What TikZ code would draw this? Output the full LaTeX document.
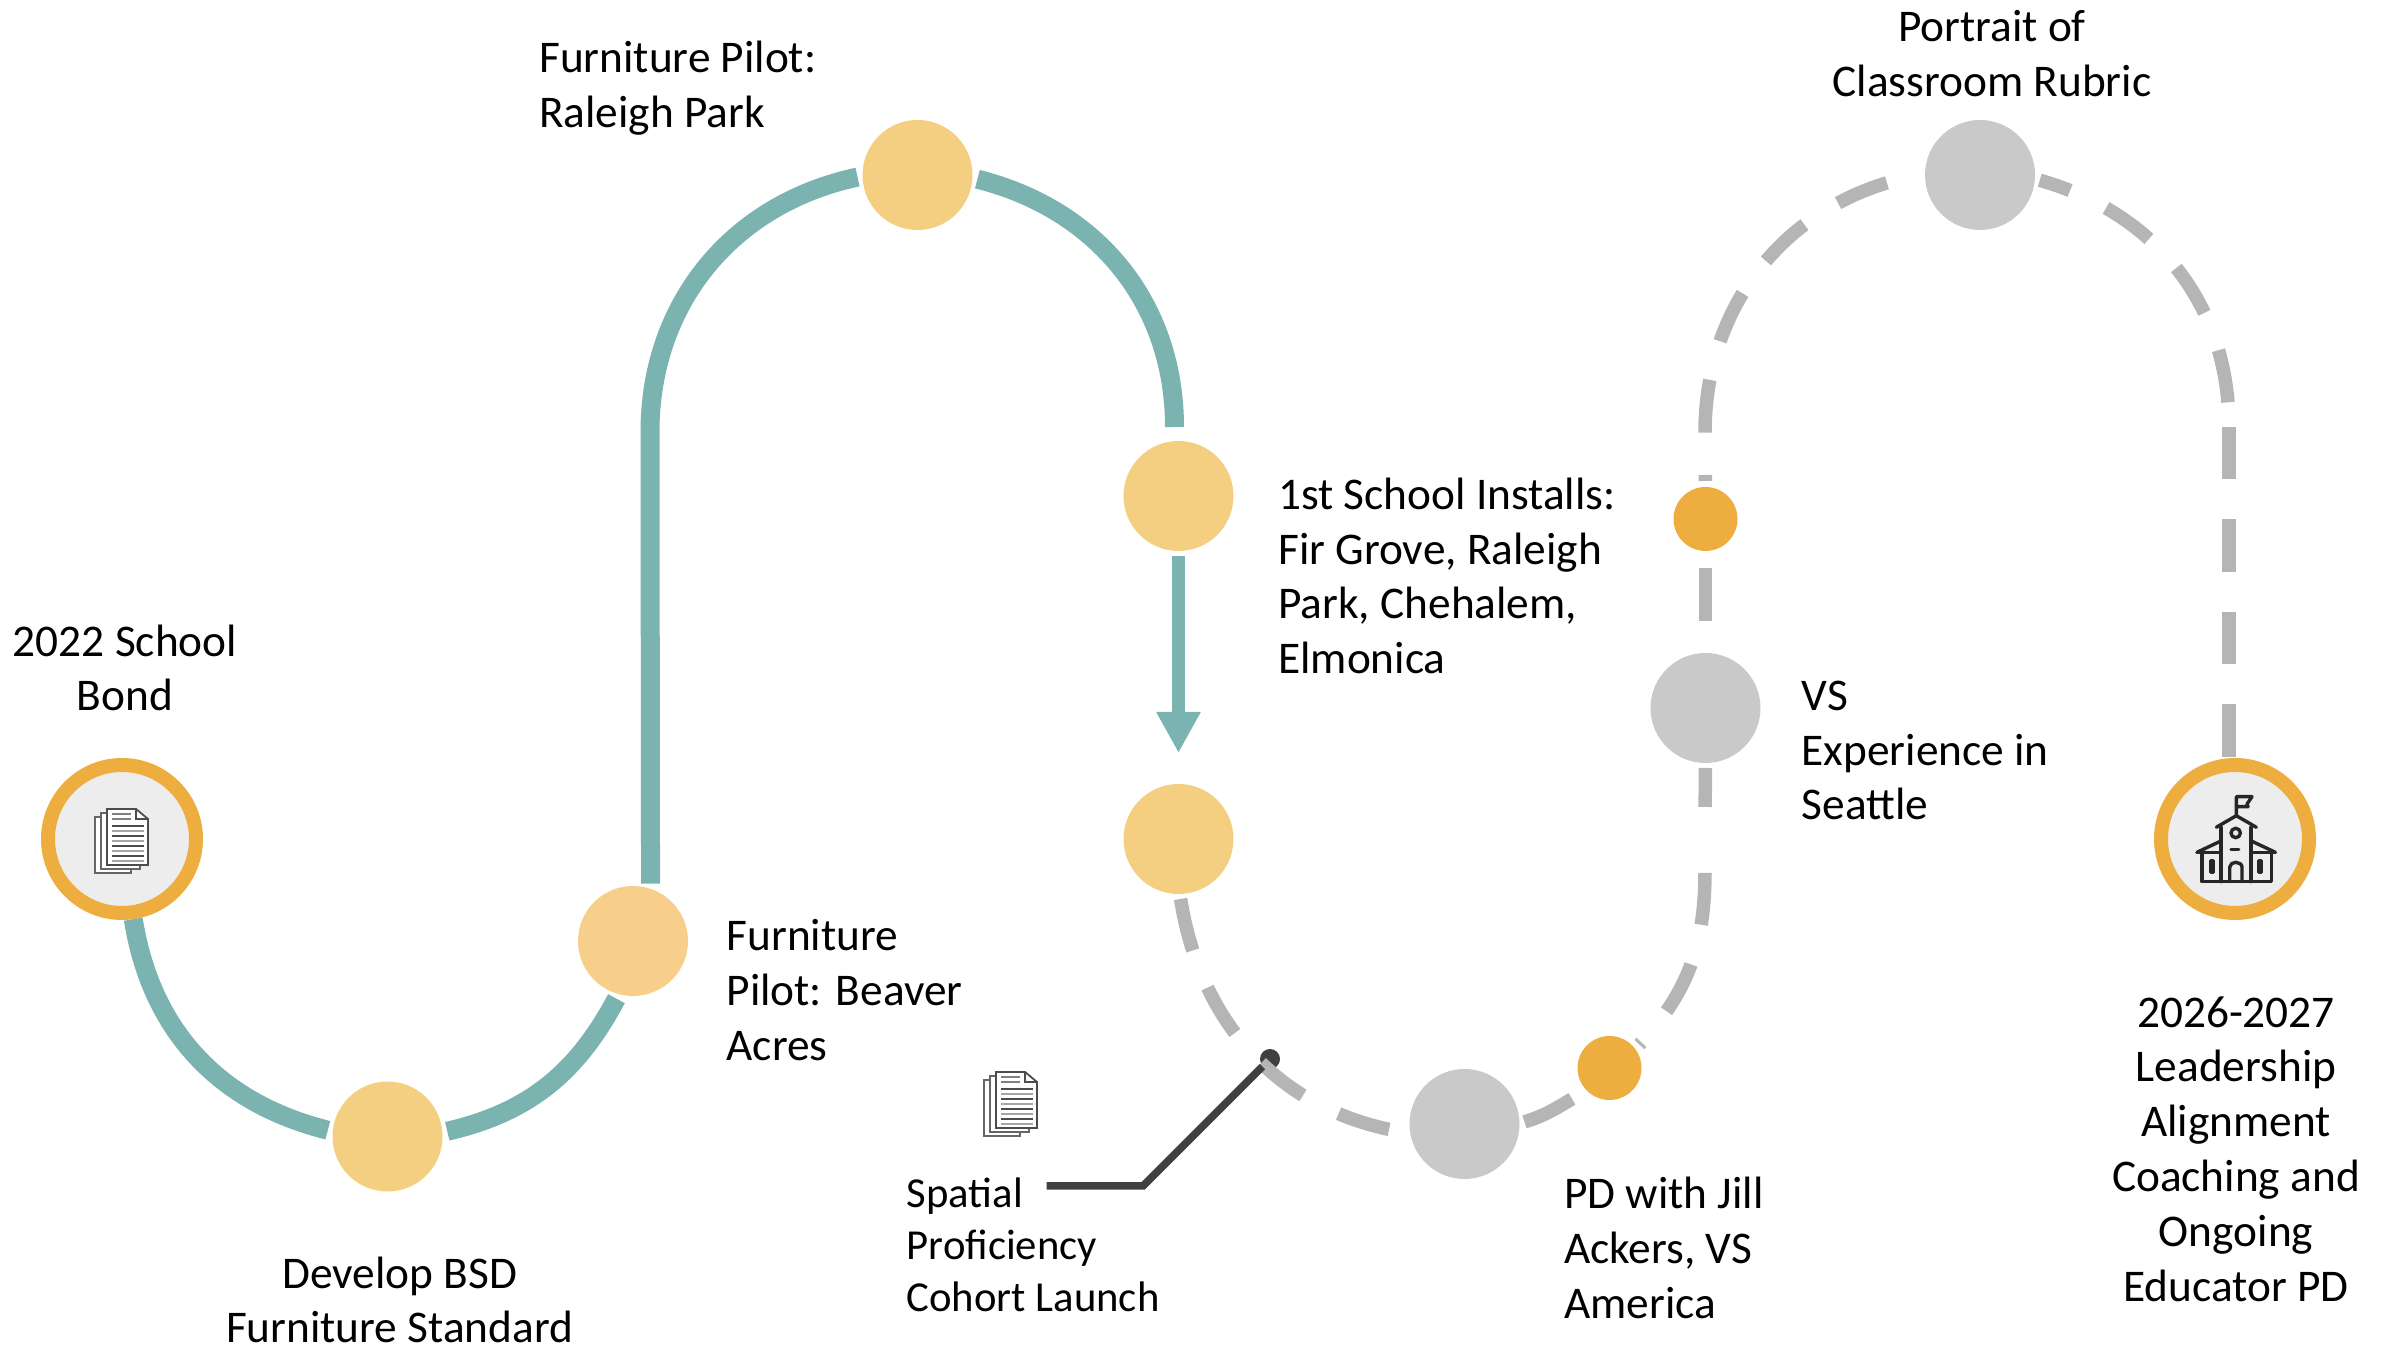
\documentclass[tikz,border=0pt]{standalone}
\usepackage{fontspec}
\setmainfont{Carlito}
\usetikzlibrary{arrows.meta}
\definecolor{tealpath}{HTML}{7BB3B0}
\definecolor{sand}{HTML}{F4CF82}
\definecolor{amber}{HTML}{EDAE3F}
\definecolor{stone}{HTML}{C9C9C9}
\definecolor{dashgray}{HTML}{B5B5B5}
\definecolor{paper}{HTML}{EDEDED}
\definecolor{ink}{HTML}{404040}
\tikzstyle{stage} = [circle, fill=sand, minimum size=1.10cm, inner sep=0pt, outer sep=.05cm]
\tikzstyle{future} = [stage, fill=stone]
\tikzstyle{event} = [circle, fill=amber, minimum size=.64cm, inner sep=0pt, outer sep=.06cm]
\tikzstyle{endpoint} = [circle, draw=amber, fill=paper, line width=.14cm, minimum size=1.48cm, inner sep=0pt]
\tikzstyle{note} = [font=\fontsize{12.9}{15.6}\selectfont, align=left, inner sep=0pt]
\tikzstyle{tealline} = [draw=tealpath, line width=.19cm]
\tikzstyle{dashline} = [draw=dashgray, line width=.135cm, dash pattern=on .53cm off .40cm]
\tikzset{
    docicon/.pic={
        \draw [gray!80!black, line width=.012cm, fill=white] (-.29,.24) -- (.07,.24) -- (.07,-.32) -- (-.29,-.32) -- cycle;
        \draw [gray!80!black, line width=.012cm, fill=white] (-.23,.28) -- (.16,.28) -- (.16,-.28) -- (-.23,-.28) -- cycle;
        \draw [black!70, line width=.018cm, fill=white] (-.17,.32) -- (.12,.32) -- (.24,.22) -- (.24,-.24) -- (-.17,-.24) -- cycle;
        \draw [black!70, line width=.012cm] (.12,.32) -- (.12,.22) -- (.24,.22);
        \foreach \y in {.27,.22} \draw [gray, line width=.016cm] (-.12,\y) -- (.07,\y);
        \foreach \y in {.15,.05,-.05,-.15} \draw [black!70, line width=.018cm] (-.12,\y) -- (.20,\y);
        \foreach \y in {.10,0,-.10,-.20} \draw [gray!70, line width=.016cm] (-.12,\y) -- (.20,\y);
    },
    schoolicon/.pic={
        \begin{scope}[draw=black!85, line width=.034cm, line join=round, line cap=round]
        \draw (-.33,-.15) -- (-.33,-.427) -- (.363,-.427) -- (.363,-.15);
        \draw (-.38,-.133) -- (-.147,-.023);
        \draw (.403,-.133) -- (.17,-.023);
        \draw (-.38,-.133) -- (-.14,-.133);
        \draw (.16,-.133) -- (.403,-.133);
        \draw (-.14,.117) -- (-.14,-.427);
        \draw (.16,.117) -- (.16,-.427);
        \draw (-.187,.117) -- (.013,.233) -- (.213,.117);
        \draw (.013,.233) -- (.013,.423) -- (.17,.423) -- (.12,.35) -- (.13,.323) -- (.013,.323);
        \draw (.007,.06) circle (.047);
        \draw (-.04,-.107) -- (.037,-.107);
        \draw (-.053,-.427) -- (-.053,-.283) to[out=90,in=180] (.008,-.233) to[out=0,in=90] (.07,-.283) -- (.07,-.427);
        \draw (-.242,-.217) rectangle (-.218,-.333);
        \draw (.241,-.217) rectangle (.265,-.333);
        \end{scope}
    }
}

\begin{document}
\begin{tikzpicture}
    \useasboundingbox (0,0) rectangle (23.92,13.48);
    % Nodes
    \node [endpoint] (bond) at (1.22,5.09) {};
    \node [stage] (develop) at (3.875,2.115) {};
    \node [stage, fill=sand!90!orange!85!white] (beaver) at (6.33,4.07) {};
    \node [stage] (raleigh) at (9.175,11.73) {};
    \node [stage] (installs) at (11.785,8.52) {};
    \node [stage] (next) at (11.785,5.09) {};
    \node [future] (cohort) at (14.645,2.24) {};
    \node [event] (jill) at (16.095,2.80) {};
    \node [future] (seattle) at (17.055,6.40) {};
    \node [event] (midyear) at (17.055,8.29) {};
    \node [future] (rubric) at (19.80,11.73) {};
    \node [endpoint] (leaders) at (22.35,5.09) {};
    \node [circle, fill=ink, minimum size=.20cm, inner sep=0pt] (leaddot) at (12.70,2.89) {};
    \coordinate (tealleft) at (6.50,9.16);
    \coordinate (tealright) at (11.745,9.21);
    \coordinate (leftfoot) at (17.05,9.154);
    \coordinate (rightfoot) at (22.29,9.21);
    \coordinate (lowerfoot) at (17.05,4.77);
    \coordinate (leadbend) at (11.43,1.62);
    \coordinate (leadend) at (10.465,1.62);
    % Labels
    \node [note, align=center] (bondtext) at (1.25,6.80) {2022 School\\Bond};
    \node [note, align=center] (developtext) at (3.997,0.48) {Develop BSD\\Furniture Standard};
    \node [note, anchor=west] (beavertext) at (7.26,3.58) {Furniture\\Pilot: Beaver\\Acres};
    \node [note, anchor=west] (raleightext) at (5.385,12.60) {Furniture Pilot:\\Raleigh Park};
    \node [note, anchor=west] (installstext) at (12.776,7.72) {1st School Installs:\\Fir Grove, Raleigh\\Park, Chehalem,\\Elmonica};
    \node [note, anchor=west] (seattletext) at (18.01,5.975) {VS\\Experience in\\Seattle};
    \node [note, align=center] (rubrictext) at (19.92,12.94) {Portrait of\\Classroom Rubric};
    \node [note, align=center] (leaderstext) at (22.36,1.99) {2026-2027\\Leadership\\Alignment\\Coaching and\\Ongoing\\Educator PD};
    \node [note, anchor=west] (jilltext) at (15.636,1.00) {PD with Jill\\Ackers, VS\\America};
    \node [note, anchor=west, font=\fontsize{12.15}{14.7}\selectfont] (cohorttext) at (9.06,1.03) {Spatial\\Proficiency\\Cohort Launch};
    % Icons
    \pic at (1.24,5.07) {docicon};
    \pic at (10.13,2.44) {docicon};
    \pic at (leaders) {schoolicon};
    % Edges
    \path [tealline] (bond.-82) to[out=-81,in=166] (develop.174);
    \path [tealline] (develop.5) to[out=13,in=242] (beaver.254);
    \path [tealline] (beaver.73) -- (tealleft);
    \path [tealline] (tealleft) to[out=90,in=192] (raleigh.182);
    \path [tealline] (raleigh.-4) to[out=-14,in=90] (tealright);
    \path [draw=tealpath, line width=.125cm, -{Triangle[width=.415cm,length=.41cm]}, shorten >=.26cm] (installs) -- (next);
    \path [dashline] (next.-88) to[out=-81,in=171] (cohort.188);
    \path [dashline] (cohort.2) to[out=17,in=210] (jill.222);
    \path [dashline, dash pattern=on .03cm off .40cm on .53cm off .41cm on .52cm off 1cm] (jill.38) to[out=47,in=-90] (lowerfoot);
    \path [dashline, dash pattern=on .40cm off .64cm, dash phase=.40cm] (lowerfoot) -- (seattle);
    \path [dashline, dash phase=.66cm] (seattle) -- (midyear);
    \path [dashline, dash pattern=on .06cm off 1cm] (midyear) -- (leftfoot);
    \path [dashline] (leftfoot) to[out=90,in=190] (rubric.180);
    \path [dashline, dash phase=.21cm] (rubric.-5) to[out=-16,in=90] (rightfoot);
    \path [dashline, dash pattern=on .525cm off .40cm] (rightfoot) -- (rightfoot |- leaders.north);
    \path [draw=ink, line width=.075cm] (leadend) -- (leadbend) -- (leaddot);
\end{tikzpicture}
\end{document}
